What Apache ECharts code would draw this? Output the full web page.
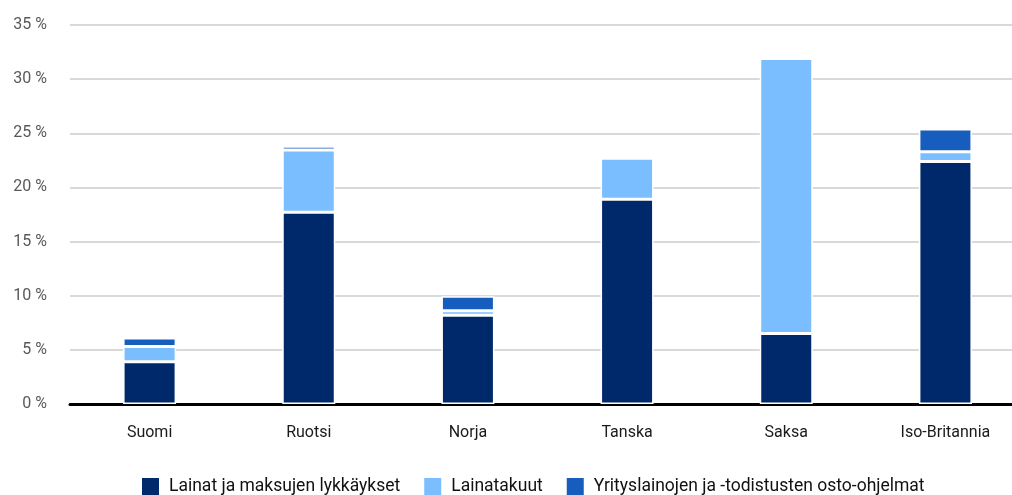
<!DOCTYPE html>
<html>
    <head>
        <meta charset="UTF-8">
        <script src="https://cdn.jsdelivr.net/npm/echarts@6/dist/echarts.min.js"></script>
        <style>
            html, body { margin: 0; padding: 0; background: #fff; }
            #main { width: 1012px; height: 495px; }
        </style>
    </head>

    <body>
        <div id="main"></div>
    </body>

    <script>
        var maat = ["Suomi", "Ruotsi", "Norja", "Tanska", "Saksa", "Iso-Britannia"];
        var lainat = [3.9, 17.7, 8.2, 18.9, 6.5, 22.4];        // Lainat ja maksujen lykkäykset
        var takuut = [1.4, 5.75, 0.4, 3.8, 25.4, 0.9];         // Lainatakuut
        var osto = [0.8, 0.35, 1.35, 0, 0, 2.1];               // Yritysosto-ohjelmat
        var sarjat = ["Lainat ja maksujen lykkäykset", "Lainatakuut", "Yrityslainojen ja -todistusten osto-ohjelmat"];
        var varit = ["#00296b", "#7bbeff", "#165dbe"];
        var fontti = "Roboto, 'Liberation Sans', sans-serif";

        var myChart = echarts.init(document.getElementById("main"));

        function sarja(nimi, data, vari) {
            return {
                name: nimi,
                type: "bar",
                stack: "yht",
                barWidth: 53,
                data: data,
                itemStyle: { color: vari, borderColor: "#fff", borderWidth: 1.5 }
            };
        }

        var option = {
            animation: false,
            color: varit,
            textStyle: { fontFamily: fontti },
            grid: { left: 70, top: 25, width: 955, bottom: 91, outerBoundsMode: "none" },
            legend: {
                top: 476,
                left: 140,
                padding: 0,
                itemWidth: 19,
                itemHeight: 19,
                itemGap: 22,
                icon: "rect",
                textStyle: { fontSize: 17.5, color: "#111", fontFamily: fontti, padding: [0, 0, 0, 4] },
                data: sarjat
            },
            xAxis: {
                type: "category",
                data: maat,
                axisLine: { lineStyle: { color: "#000", width: 3 } },
                axisTick: { show: false },
                axisLabel: { fontSize: 16, color: "#1a1a1a", margin: 21, fontFamily: fontti }
            },
            yAxis: {
                type: "value",
                min: 0,
                max: 35,
                interval: 5,
                axisLine: { show: false },
                axisTick: { show: false },
                splitLine: { lineStyle: { color: "#d9d9d9", width: 2 } },
                axisLabel: { fontSize: 16, color: "#595959", margin: 23, fontFamily: fontti,
                    formatter: function (v) { return v + " %"; } }
            },
            series: [
                sarja(sarjat[0], lainat, varit[0]),
                sarja(sarjat[1], takuut, varit[1]),
                sarja(sarjat[2], osto, varit[2])
            ]
        };
        myChart.setOption(option);
    </script>
</html>
